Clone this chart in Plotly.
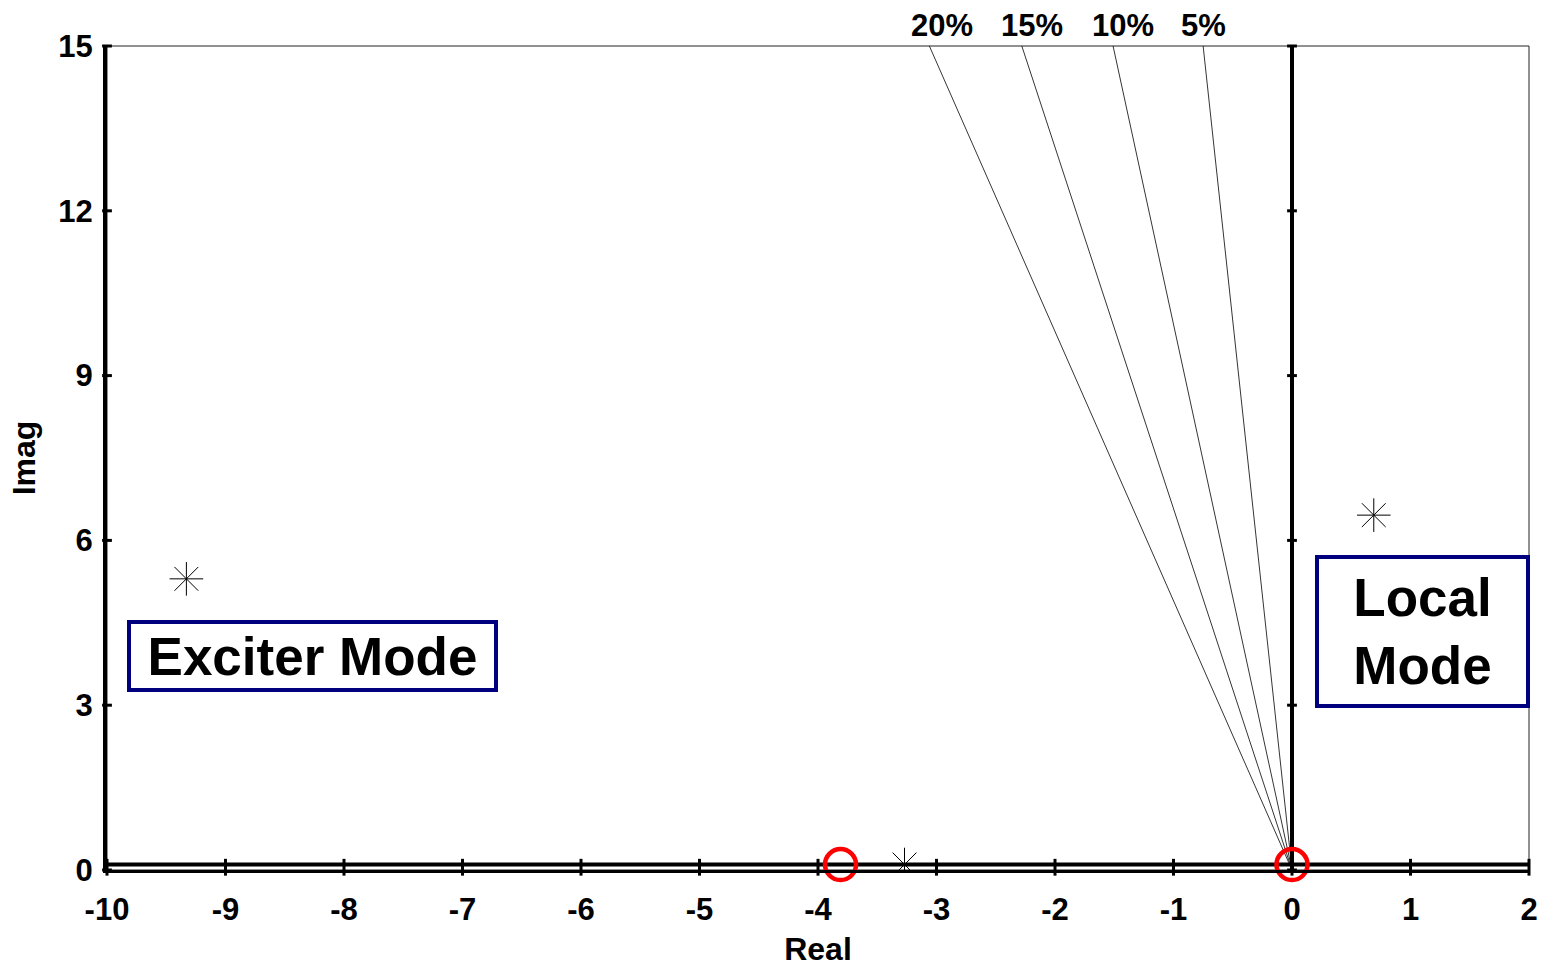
import plotly.graph_objects as go

# ---- data ----
X_TICKS = [-10, -9, -8, -7, -6, -5, -4, -3, -2, -1, 0, 1, 2]
X_TICK_LABELS = ["-10", "-9", "-8", "-7", "-6", "-5", "-4", "-3", "-2", "-1", "0", "1", "2"]
Y_TICKS = [0, 3, 6, 9, 12, 15]
Y_TICK_LABELS = ["0", "3", "6", "9", "12", "15"]

# damping-ratio guide lines: start at origin, end at the top of the plot
DAMP_LABELS = ["20%", "15%", "10%", "5%"]
DAMP_TOP_X = [-3.06, -2.28, -1.51, -0.75]
DAMP_TOP_Y = [15, 15, 15, 15]
DAMP_LABEL_X = [-2.95, -2.19, -1.43, -0.75]

# eigenvalues (asterisks)
EIG_X = [-9.33, 0.69]
EIG_Y = [5.30, 6.46]
EIG_LOW_X = [-3.27]
EIG_LOW_Y = [0.10]

# zeros (red circles)
ZERO_X = [-3.81, 0.0]
ZERO_Y = [0.10, 0.10]

REAL_AXIS_Y = 0.10

BOXES = [
    dict(text="Exciter Mode", x=-8.266, y=3.90, w=363, h=64),
    dict(text="Local<br>Mode", x=1.101, y=4.34, w=207, h=145),
]

FONT = "Arial, Liberation Sans, sans-serif"

fig = go.Figure()

# damping lines
for tx, ty in zip(DAMP_TOP_X, DAMP_TOP_Y):
    fig.add_trace(go.Scatter(x=[0, tx], y=[0, ty], mode="lines",
                             line=dict(color="black", width=0.8),
                             hoverinfo="skip", showlegend=False))

# eigenvalues
fig.add_trace(go.Scatter(x=EIG_X, y=EIG_Y, mode="markers",
                         marker=dict(symbol="asterisk-open", size=28, color="black",
                                     line=dict(color="black", width=1)),
                         showlegend=False))
fig.add_trace(go.Scatter(x=EIG_LOW_X, y=EIG_LOW_Y, mode="markers",
                         cliponaxis=True,
                         marker=dict(symbol="asterisk-open", size=28, color="black",
                                     line=dict(color="black", width=1)),
                         showlegend=False))

# tick marks (crossing) on the axes
fig.add_trace(go.Scatter(x=X_TICKS, y=[REAL_AXIS_Y / 2] * len(X_TICKS),
                         mode="markers", cliponaxis=False,
                         marker=dict(symbol="line-ns", size=12, color="black",
                                     line=dict(color="black", width=3)),
                         hoverinfo="skip", showlegend=False))
fig.add_trace(go.Scatter(x=[X_TICKS[0]] * len(Y_TICKS), y=Y_TICKS,
                         mode="markers", cliponaxis=False,
                         marker=dict(symbol="line-ew", size=7, color="black",
                                     line=dict(color="black", width=3)),
                         hoverinfo="skip", showlegend=False))
fig.add_trace(go.Scatter(x=[0] * len(Y_TICKS), y=Y_TICKS,
                         mode="markers", cliponaxis=False,
                         marker=dict(symbol="line-ew", size=7, color="black",
                                     line=dict(color="black", width=3)),
                         hoverinfo="skip", showlegend=False))

# zeros
fig.add_trace(go.Scatter(x=ZERO_X, y=ZERO_Y, mode="markers", cliponaxis=False,
                         marker=dict(symbol="circle-open", size=31, color="#ff0000",
                                     line=dict(color="#ff0000", width=4.5)),
                         showlegend=False))

# frame and real-axis line
fig.add_shape(type="rect", xref="paper", yref="paper", x0=0, x1=1, y0=0, y1=1,
              line=dict(color="#222222", width=1), layer="below")
fig.add_shape(type="line", xref="paper", yref="y", x0=0, x1=1,
              y0=REAL_AXIS_Y, y1=REAL_AXIS_Y,
              line=dict(color="black", width=4), layer="below")

# damping labels
for lab, lx in zip(DAMP_LABELS, DAMP_LABEL_X):
    fig.add_annotation(x=lx, y=Y_TICKS[-1], text=lab, showarrow=False,
                       xanchor="center", yanchor="middle", yshift=21,
                       font=dict(family=FONT, size=31, color="black", weight="bold"))

# mode boxes
for b in BOXES:
    fig.add_annotation(x=b["x"], y=b["y"], text=b["text"], showarrow=False,
                       xanchor="center", yanchor="middle",
                       width=b["w"], height=b["h"], align="center", valign="middle",
                       bordercolor="#00007f", borderwidth=4, borderpad=0,
                       bgcolor="white",
                       font=dict(family=FONT, size=53, color="black", weight="bold"))

fig.update_layout(
    width=1548, height=969,
    margin=dict(l=107, r=19, t=46, b=99),
    paper_bgcolor="white", plot_bgcolor="white",
    showlegend=False,
    xaxis=dict(range=[X_TICKS[0], X_TICKS[-1]], tickvals=X_TICKS, ticktext=X_TICK_LABELS,
               automargin=False,
               showgrid=False, zeroline=True, zerolinecolor="black", zerolinewidth=4,
               showline=True, linecolor="black", linewidth=3,
               ticks="outside", ticklen=10, tickcolor="rgba(0,0,0,0)",
               tickfont=dict(family=FONT, size=31, color="black", weight="bold"),
               title=dict(text="Real", standoff=12,
                          font=dict(family=FONT, size=32, color="black", weight="bold"))),
    yaxis=dict(range=[Y_TICKS[0], Y_TICKS[-1]], tickvals=Y_TICKS, ticktext=Y_TICK_LABELS,
               automargin=False,
               showgrid=False, zeroline=False,
               showline=True, linecolor="black", linewidth=4,
               ticks="outside", ticklen=4, tickcolor="rgba(0,0,0,0)",
               tickfont=dict(family=FONT, size=31, color="black", weight="bold"),
               title=dict(text="Imag", standoff=14,
                          font=dict(family=FONT, size=32, color="black", weight="bold"))),
)

fig.write_html("out.html")
